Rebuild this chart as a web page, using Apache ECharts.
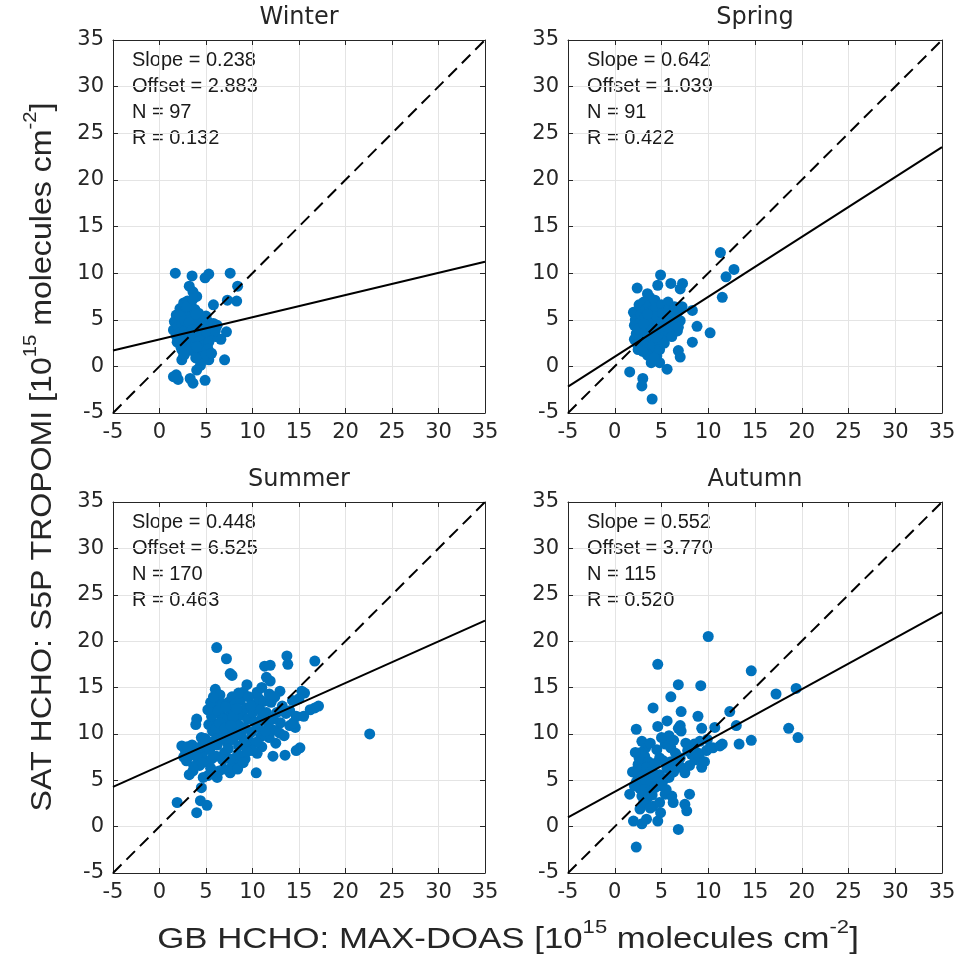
<!DOCTYPE html>
<html>
<head>
<meta charset="utf-8">
<script src="https://cdn.jsdelivr.net/npm/echarts@6/dist/echarts.min.js"></script>
<style>
  html, body { margin: 0; padding: 0; background: #ffffff; }
  #chart { width: 971px; height: 970px; }
</style>
</head>
<body>
<div id="chart"></div>
<script>
// Seasonal comparison of satellite (S5P TROPOMI) and ground-based (MAX-DOAS) HCHO columns
const seasons = ['Winter', 'Spring', 'Summer', 'Autumn'];
const slopes = [0.238, 0.642, 0.448, 0.552];
const offsets = [2.883, 1.039, 6.525, 3.770];
const counts = [97, 91, 170, 115];
const rValues = [0.132, 0.422, 0.463, 0.520];

const axisMin = -5;
const axisMax = 35;
const tickStep = 5;

const winterPoints = [
  [1.7,10.0],[3.5,9.7],[4.9,9.5],[5.3,9.9],[7.6,10.0],[8.4,8.6],[7.3,7.1],[8.3,7.0],[5.8,6.6],[3.2,8.6],
  [3.6,8.0],[4.0,7.5],[7.2,3.7],[7.0,0.7],[6.6,2.9],[5.3,0.7],[4.7,0.7],[4.4,0.1],[4.0,-0.4],[1.8,-0.9],
  [2.0,-1.4],[1.5,-1.1],[3.3,-1.3],[3.6,-1.8],[4.9,-1.5],[2.4,0.7],[2.6,1.2],[2.4,1.8],[2.2,6.2],[2.6,6.8],
  [3.0,7.0],[3.4,6.6],[1.8,5.5],[2.3,5.8],[2.8,6.0],[3.3,5.9],[3.8,6.1],[4.2,5.7],[1.6,4.8],[2.0,5.0],
  [2.5,5.2],[3.0,5.3],[3.5,5.0],[4.0,5.2],[4.6,5.0],[5.2,4.8],[5.8,4.6],[1.5,3.9],[2.0,4.2],[2.4,4.5],
  [2.9,4.4],[3.3,4.2],[3.8,4.4],[4.3,4.2],[4.9,4.0],[5.5,4.1],[6.2,4.4],[1.8,3.3],[2.2,3.6],[2.7,3.8],
  [3.1,3.5],[3.6,3.3],[4.1,3.6],[4.6,3.3],[5.1,3.6],[6.0,3.2],[1.9,2.6],[2.4,2.8],[2.9,2.5],[3.4,2.7],
  [3.9,2.4],[4.4,2.8],[4.8,2.3],[5.3,2.6],[2.3,2.1],[3.2,1.8],[3.7,1.6],[4.2,1.9],[4.7,1.5],[5.2,1.9],
  [2.7,1.3],[4.5,1.0],[5.0,1.2],[3.9,0.9],[5.6,1.4],[2.2,5.4],[2.7,4.9],[3.9,5.6],[3.2,4.7],[4.5,4.6],
  [2.1,3.0],[3.5,3.9],[4.0,2.1],[2.9,6.4],[3.6,7.2],[6.0,3.8],[5.0,5.4]
];

const springPoints = [
  [11.3,12.2],[12.75,10.4],[11.9,9.6],[11.5,7.4],[4.9,9.8],[4.6,8.7],[6.0,8.9],[7.25,8.9],[7.0,8.3],[2.4,8.4],
  [3.5,7.8],[3.75,7.4],[8.3,6.0],[8.8,4.3],[10.2,3.6],[8.3,2.6],[6.8,1.7],[7.0,1.0],[5.6,-0.3],[1.6,-0.6],
  [3.0,-1.3],[2.9,-2.1],[4.0,-3.5],[3.9,0.4],[4.8,0.4],[6.5,4.4],[6.7,3.8],[5.0,3.2],[2.5,1.8],[4.1,1.6],
  [4.5,1.1],[2.0,5.8],[2.2,5.0],[2.1,4.4],[2.3,3.5],[2.1,2.9],[2.6,6.6],[2.8,5.6],[2.7,4.7],[2.9,3.9],
  [2.7,3.0],[2.8,2.3],[3.1,6.9],[3.3,6.1],[3.2,5.2],[3.4,4.4],[3.3,3.4],[3.4,2.6],[3.6,1.9],[3.7,6.5],
  [3.9,5.9],[3.8,4.8],[4.0,4.0],[3.9,3.1],[4.1,2.3],[4.3,7.1],[4.4,6.3],[4.5,5.3],[4.6,4.5],[4.5,3.6],
  [4.7,2.7],[5.0,6.6],[5.1,5.7],[5.2,4.9],[5.4,4.1],[5.3,3.4],[5.7,6.9],[5.8,6.1],[5.9,5.3],[6.0,4.5],
  [6.2,5.9],[6.4,6.4],[6.6,5.5],[6.9,6.0],[7.0,4.9],[6.8,4.2],[5.6,3.8],[4.8,1.8],[3.5,1.2],[4.2,0.9],
  [2.4,2.4],[3.0,1.6],[5.3,2.5],[6.1,3.2],[7.2,6.4],[3.5,5.6],[2.5,4.0],[5.5,5.3],[4.9,4.2],[3.1,4.6],
  [4.4,3.1]
];

const summerPoints = [
  [6.15,19.3],[7.2,18.1],[7.6,16.5],[7.8,16.3],[13.7,18.4],[13.8,17.5],[16.7,17.85],[11.3,17.3],[11.9,17.4],[11.5,16.1],
  [11.9,15.7],[12.95,14.6],[9.4,15.3],[6.0,14.8],[15.6,14.4],[16.7,12.8],[17.1,13.0],[14.7,11.9],[14.0,10.9],[14.6,10.7],
  [15.1,8.5],[14.7,8.2],[13.5,7.7],[12.2,7.6],[10.4,5.8],[4.0,11.6],[3.9,11.0],[2.4,8.7],[1.9,2.6],[4.0,1.5],
  [4.4,2.8],[5.1,2.3],[4.5,4.2],[4.7,5.3],[6.2,5.3],[7.6,5.8],[8.7,7.5],[2.9,7.1],[3.6,6.0],[4.5,9.6],
  [22.6,10.0],[15.3,14.6],[14.0,12.5],[16.2,12.6],[13.2,13.0],[12.6,12.3],[13.0,11.2],[12.3,10.4],[12.5,9.0],[11.8,9.6],
  [11.0,8.6],[10.5,7.9],[9.8,8.4],[9.2,7.3],[8.2,6.8],[7.7,6.4],[6.9,6.2],[6.4,6.0],[5.5,6.3],[5.0,7.0],
  [3.2,7.6],[3.8,8.3],[2.8,8.1],[3.2,5.6],[4.6,7.8],[5.4,8.3],[5.8,9.2],[4.9,9.5],[5.7,10.3],[6.0,11.0],
  [5.9,12.2],[6.0,12.9],[6.3,13.6],[6.5,14.2],[6.8,13.2],[6.6,12.0],[6.9,11.3],[6.7,10.5],[6.4,9.7],[6.2,8.8],
  [7.0,8.0],[7.3,9.0],[7.2,10.0],[7.5,10.8],[7.3,11.7],[7.6,12.5],[7.4,13.4],[7.8,14.0],[8.1,13.2],[8.0,12.1],
  [8.2,11.3],[8.0,10.3],[7.9,9.4],[8.5,8.7],[8.8,9.8],[8.6,10.9],[8.9,12.0],[8.7,13.6],[9.0,14.5],[9.6,14.0],
  [9.3,12.8],[9.5,11.6],[9.2,10.6],[9.6,9.3],[9.9,10.2],[10.2,11.3],[10.0,12.3],[10.3,13.2],[10.7,13.8],[11.2,13.5],
  [10.8,12.6],[11.0,11.7],[10.6,10.7],[10.9,9.7],[11.4,10.3],[11.7,11.1],[11.5,12.3],[12.0,13.4],[11.8,14.3],[12.4,14.0],
  [10.4,9.1],[10.0,8.2],[9.4,8.1],[8.4,7.8],[12.2,11.6],[13.6,12.2],[14.3,13.6],[15.0,13.8],[15.5,11.9],[14.4,11.2],
  [5.3,11.0],[5.6,11.9],[5.2,12.6],[5.5,13.4],[5.8,14.0],[6.1,7.6],[5.6,7.3],[4.3,6.6],[4.1,7.4],[3.5,8.8],
  [3.0,8.6],[2.6,7.5],[4.4,8.6],[5.0,8.7],[3.7,6.5],[4.6,6.9],[5.2,5.5],[6.8,7.2],[7.6,7.3],[8.4,6.2],
  [9.0,6.9],[6.3,12.5],[6.8,11.6],[7.1,12.9],[7.9,11.8],[8.3,12.7],[8.5,14.4],[9.8,13.0],[10.5,14.5],[11.0,15.0],
  [6.1,10.6],[6.5,11.2],[7.0,10.6],[7.7,10.9],[8.3,9.9],[9.1,9.1],[6.7,9.5],[7.4,8.4],[13.4,9.8],[12.9,10.1]
];

const autumnPoints = [
  [10.0,20.5],[4.6,17.5],[14.6,16.8],[6.8,15.3],[9.2,15.2],[6.0,14.0],[17.25,14.3],[19.4,14.9],[4.1,12.8],[7.1,12.4],
  [12.3,12.4],[8.9,11.9],[5.6,11.4],[7.0,10.9],[7.1,10.3],[4.6,10.8],[2.3,10.5],[9.3,10.6],[10.7,10.7],[13.0,10.9],
  [18.6,10.6],[19.6,9.6],[13.3,8.9],[14.6,9.3],[11.25,8.7],[10.5,8.5],[9.8,8.2],[2.9,9.2],[1.6,3.5],[2.7,1.9],
  [2.0,0.6],[2.9,0.3],[3.4,0.8],[4.6,0.6],[6.8,-0.3],[2.3,-2.2],[5.4,3.5],[6.1,3.3],[6.25,2.6],[8.0,3.5],
  [7.5,2.4],[7.7,1.7],[4.1,2.2],[4.8,2.6],[4.8,7.4],[5.2,7.1],[7.1,6.4],[7.5,5.8],[9.3,6.4],[8.2,7.8],
  [10.2,8.5],[5.4,8.9],[6.0,8.5],[6.5,7.9],[7.0,7.4],[8.6,7.2],[9.0,7.6],[9.6,7.0],[8.5,8.9],[9.1,9.2],
  [7.8,8.2],[6.8,10.6],[6.3,9.3],[5.8,9.8],[5.0,9.6],[4.5,8.3],[3.3,8.5],[2.8,8.0],[2.6,7.4],[3.2,7.6],
  [2.5,6.7],[3.0,6.9],[3.6,7.0],[2.4,6.1],[2.9,6.2],[3.4,6.4],[4.0,6.0],[2.5,5.4],[3.0,5.5],[3.6,5.6],
  [4.2,5.3],[4.8,5.6],[2.3,4.8],[2.8,4.7],[3.3,4.9],[3.9,4.6],[4.5,4.8],[5.2,5.0],[2.7,4.1],[3.2,4.0],
  [3.7,3.8],[4.3,4.2],[5.0,4.4],[2.9,3.3],[3.5,3.1],[4.0,3.4],[5.8,5.3],[6.3,5.9],[5.6,6.3],[4.3,6.8],
  [6.0,7.0],[8.0,6.6],[8.8,8.0],[3.1,2.6],[2.1,4.4],[1.9,5.9],[3.8,2.0],[5.5,4.0],[6.6,6.7],[7.6,9.0],
  [9.9,9.4],[11.5,8.9],[3.8,9.0],[2.2,8.0],[4.9,1.5]
];

const seasonPoints = [winterPoints, springPoints, summerPoints, autumnPoints];

// Panel placement (pixels) for the 2 x 2 layout
const panels = [
  { left: 113, top: 40,  width: 372, height: 373 },
  { left: 568, top: 40,  width: 374, height: 373 },
  { left: 113, top: 502, width: 372, height: 371 },
  { left: 568, top: 502, width: 374, height: 371 }
];

const axisColor = '#262626';
const gridLineColor = '#e4e4e4';
const markerColor = '#0072BD';
const tickFont = 'DejaVu Sans';
const textFont = 'Liberation Sans, Arial, sans-serif';

const grids = [];
const xAxes = [];
const yAxes = [];
const series = [];
const graphics = [];

function boxAxis(gridIndex, position, withLabels) {
  return {
    type: 'value',
    gridIndex: gridIndex,
    position: position,
    min: axisMin,
    max: axisMax,
    interval: tickStep,
    axisLine: { show: true, onZero: false, lineStyle: { color: axisColor, width: 1 } },
    axisTick: { show: true, inside: true, length: 5, lineStyle: { color: axisColor, width: 1 } },
    axisLabel: withLabels
      ? { show: true, margin: 9, fontSize: 21, fontFamily: tickFont, color: axisColor }
      : { show: false },
    splitLine: withLabels
      ? { show: true, lineStyle: { color: gridLineColor, width: 1 } }
      : { show: false }
  };
}

panels.forEach(function (p, i) {
  grids.push({ left: p.left, top: p.top, width: p.width, height: p.height });
  xAxes.push(boxAxis(i, 'bottom', true));
  xAxes.push(boxAxis(i, 'top', false));
  yAxes.push(boxAxis(i, 'left', true));
  yAxes.push(boxAxis(i, 'right', false));

  const ax = 2 * i;

  series.push({
    type: 'scatter',
    xAxisIndex: ax,
    yAxisIndex: ax,
    data: seasonPoints[i],
    symbol: 'circle',
    symbolSize: 11,
    itemStyle: { color: markerColor, opacity: 1 },
    silent: true,
    z: 2
  });

  // 1:1 reference line
  series.push({
    type: 'line',
    xAxisIndex: ax,
    yAxisIndex: ax,
    data: [[axisMin, axisMin], [axisMax, axisMax]],
    symbol: 'none',
    lineStyle: { color: '#000000', width: 2, type: [12, 7] },
    silent: true,
    z: 3
  });

  // linear fit from the stated slope and offset
  series.push({
    type: 'line',
    xAxisIndex: ax,
    yAxisIndex: ax,
    data: [
      [axisMin, offsets[i] + slopes[i] * axisMin],
      [axisMax, offsets[i] + slopes[i] * axisMax]
    ],
    symbol: 'none',
    lineStyle: { color: '#000000', width: 2 },
    silent: true,
    z: 4
  });

  // panel heading
  graphics.push({
    type: 'text',
    x: p.left + p.width / 2,
    y: p.top - 22,
    style: {
      text: seasons[i],
      fontSize: 24,
      fontFamily: tickFont,
      fill: axisColor,
      align: 'center',
      verticalAlign: 'middle',
      textAlign: 'center',
      textVerticalAlign: 'middle'
    }
  });

  // fit statistics
  graphics.push({
    type: 'text',
    x: p.left + 19,
    y: p.top + 7,
    style: {
      text: [
        'Slope = ' + slopes[i].toFixed(3),
        'Offset = ' + offsets[i].toFixed(3),
        'N = ' + counts[i],
        'R = ' + rValues[i].toFixed(3)
      ].join('\n'),
      fontSize: 20,
      lineHeight: 26,
      fontFamily: textFont,
      fill: '#1a1a1a',
      align: 'left',
      verticalAlign: 'top',
      textAlign: 'left',
      textVerticalAlign: 'top'
    }
  });
});

const unitRich = {
  m: { fontSize: 30, fontFamily: textFont, fill: axisColor, color: axisColor, lineHeight: 44, verticalAlign: 'middle' },
  s: { fontSize: 19, fontFamily: textFont, fill: axisColor, color: axisColor, lineHeight: 20, verticalAlign: 'top' }
};

// shared axis titles
graphics.push({
  type: 'text',
  x: 508,
  y: 940,
  scaleX: 1.16,
  style: {
    text: '{m|GB HCHO: MAX-DOAS [10}{s|15}{m| molecules cm}{s|-2}{m|]}',
    rich: unitRich,
    align: 'center',
    verticalAlign: 'middle',
    textAlign: 'center',
    textVerticalAlign: 'middle'
  }
});

graphics.push({
  type: 'text',
  x: 43,
  y: 457,
  rotation: Math.PI / 2,
  scaleX: 1.07,
  style: {
    text: '{m|SAT HCHO: S5P TROPOMI [10}{s|15}{m| molecules cm}{s|-2}{m|]}',
    rich: unitRich,
    align: 'center',
    verticalAlign: 'middle',
    textAlign: 'center',
    textVerticalAlign: 'middle'
  }
});

const chart = echarts.init(document.getElementById('chart'), null, { renderer: 'canvas' });
chart.setOption({
  animation: false,
  backgroundColor: '#ffffff',
  grid: grids,
  xAxis: xAxes,
  yAxis: yAxes,
  series: series,
  graphic: graphics
});
</script>
</body>
</html>
